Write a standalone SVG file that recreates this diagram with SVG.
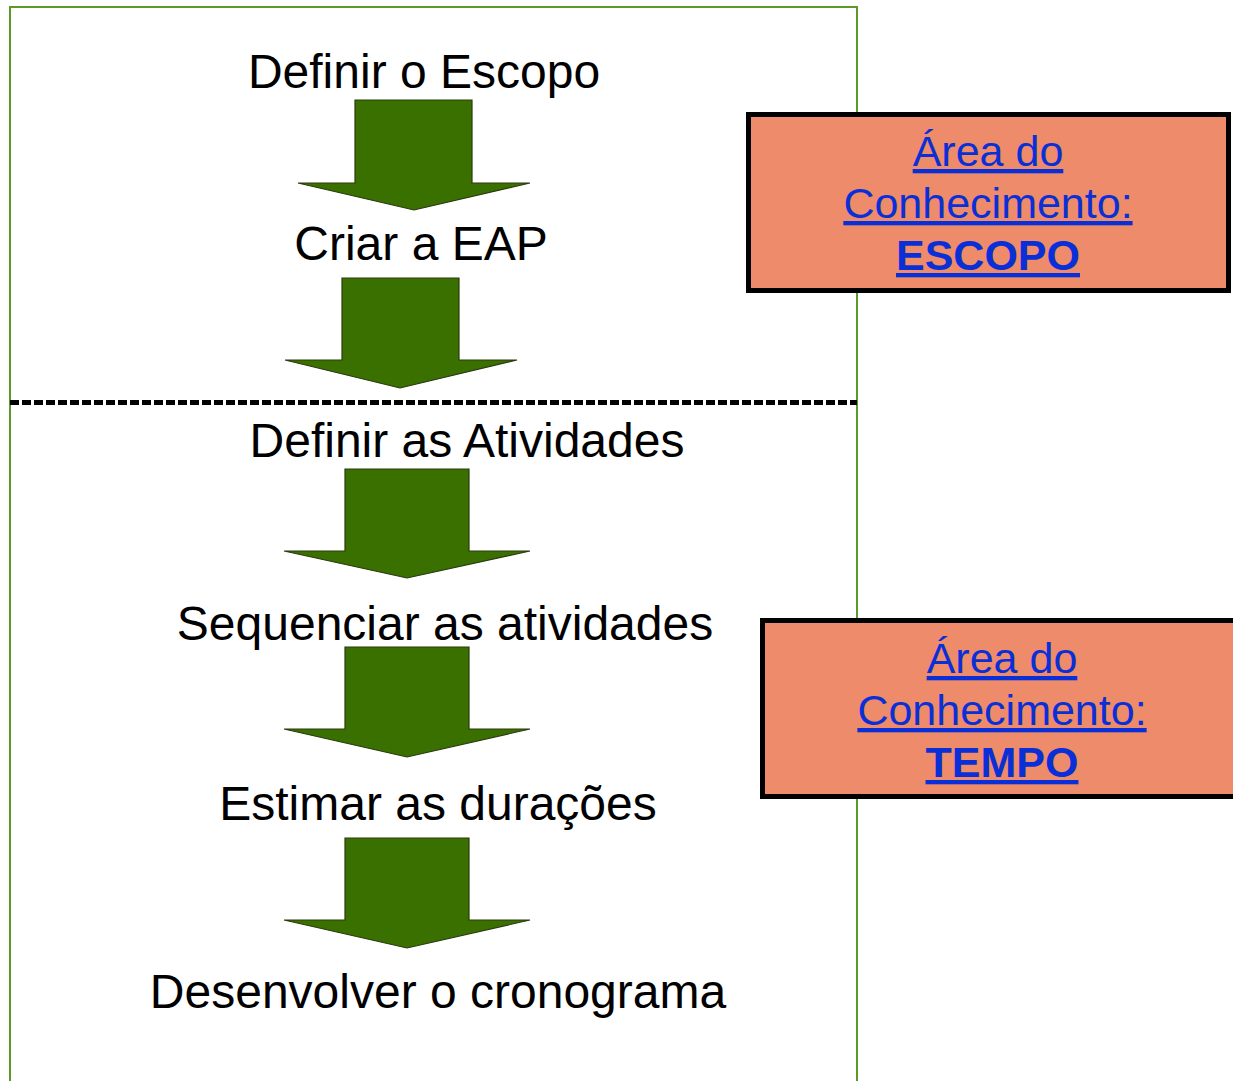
<svg xmlns="http://www.w3.org/2000/svg" width="1233" height="1081" viewBox="0 0 1233 1081">
<defs>
<style>
.step{font-family:"Liberation Sans",Arial,sans-serif;font-size:48px;fill:#000;text-anchor:middle}
.area{font-family:"Liberation Sans",Arial,sans-serif;font-size:43px;fill:#0a2fd6;text-anchor:middle;text-decoration:underline}
.b{font-weight:bold}
.arrow{fill:#3a7000;stroke:#2a3a10;stroke-width:1.2}
.box{fill:#ed8b6a;stroke:#000;stroke-width:5}
</style>
</defs>
<rect width="1233" height="1081" fill="#fff"/>
<rect id="frame" x="10" y="7" width="847" height="1090" fill="none" stroke="#5a9a2a" stroke-width="2"/>
<line x1="10" y1="402.5" x2="857" y2="402.5" stroke="#000" stroke-width="5" stroke-dasharray="9,3"/>
<g id="connectors">
<path class="arrow" d="M355,100 H472 V183 H530 L414,210 L298,183 H355 Z"/>
<path class="arrow" d="M342,278 H459 V360 H517 L400,388 L285,360 H342 Z"/>
<path class="arrow" d="M345,469 H469 V551 H530 L407,578 L284,551 H345 Z"/>
<path class="arrow" d="M345,647 H469 V729 H530 L407,757 L284,729 H345 Z"/>
<path class="arrow" d="M345,838 H469 V920 H530 L407,948 L284,920 H345 Z"/>
</g>
<g id="n1"><text class="step" x="424" y="88">Definir o Escopo</text></g>
<g id="n2"><text class="step" x="421" y="260">Criar a EAP</text></g>
<g id="n3"><text class="step" x="467" y="457">Definir as Atividades</text></g>
<g id="n4"><text class="step" x="445" y="640">Sequenciar as atividades</text></g>
<g id="n5"><text class="step" x="438" y="820">Estimar as durações</text></g>
<g id="n6"><text class="step" x="438" y="1008">Desenvolver o cronograma</text></g>
<g id="area-escopo">
<rect class="box" x="748.5" y="114.5" width="480" height="176"/>
<text class="area" x="988" y="166">Área do</text>
<text class="area" x="988" y="218">Conhecimento:</text>
<text class="area b" x="988" y="270">ESCOPO</text>
</g>
<g id="area-tempo">
<rect class="box" x="762.5" y="620.5" width="480" height="176"/>
<text class="area" x="1002" y="673">Área do</text>
<text class="area" x="1002" y="725">Conhecimento:</text>
<text class="area b" x="1002" y="777">TEMPO</text>
</g>
</svg>
